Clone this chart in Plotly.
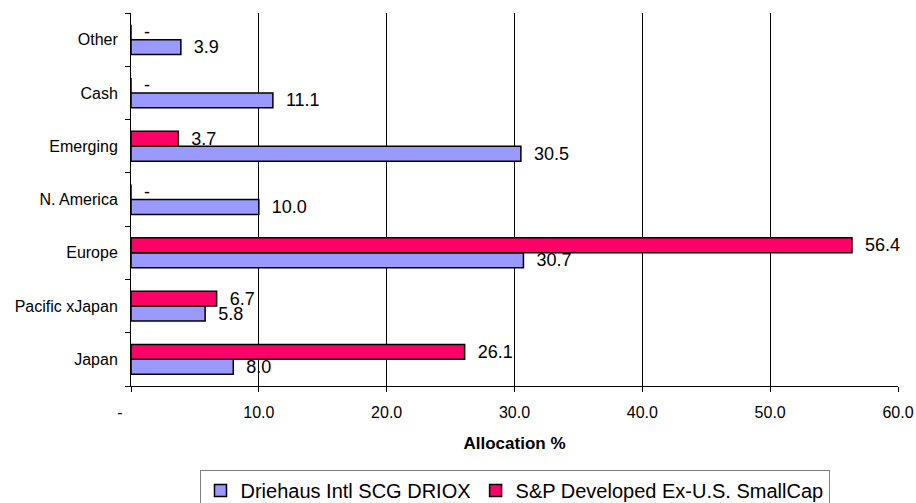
import plotly.graph_objects as go

# Regional allocation (%), listed bottom to top on the chart
regions = ["Japan", "Pacific xJapan", "Europe", "N. America", "Emerging", "Cash", "Other"]
driehaus = [8.0, 5.8, 30.7, 10.0, 30.5, 11.1, 3.9]
sp_small = [26.1, 6.7, 56.4, 0.0, 3.7, 0.0, 0.0]

series_names = ["Driehaus Intl SCG DRIOX", "S&P Developed Ex-U.S. SmallCap"]
series_colors = ["#9999FF", "#FF0066"]

x_tick_vals = [0, 10, 20, 30, 40, 50, 60]
x_tick_text = ["-\u00a0\u00a0\u00a0\u00a0\u00a0", "10.0", "20.0", "30.0", "40.0", "50.0", "60.0"]

FONT = "Liberation Sans, Arial, sans-serif"
PAD = "\u00a0\u00a0"


def fmt(v):
    # accounting style: zero shows as a dash
    return PAD + ("-" if v == 0 else f"{v:.1f}")


fig = go.Figure()
for name, vals, color in zip(series_names, [driehaus, sp_small], series_colors):
    fig.add_trace(go.Bar(
        name=name,
        y=regions,
        x=vals,
        orientation="h",
        marker=dict(color=color, line=dict(color="#000000", width=1.5)),
        text=[fmt(v) for v in vals],
        textposition="outside",
        textfont=dict(family=FONT, size=18, color="#000000"),
        constraintext="none",
        cliponaxis=False,
        hoverinfo="skip",
    ))

fig.update_layout(
    width=916,
    height=503,
    margin=dict(l=131, r=18, t=13, b=117, autoexpand=False),
    paper_bgcolor="#FFFFFF",
    plot_bgcolor="#FFFFFF",
    barmode="group",
    bargap=0.44,
    bargroupgap=0,
    font=dict(family=FONT, size=16, color="#000000"),
    showlegend=True,
    legend=dict(
        orientation="h",
        xref="paper", x=0.5, xanchor="center",
        yref="container", y=1 - 470 / 503, yanchor="top",
        bordercolor="#808080",
        borderwidth=1,
        font=dict(family=FONT, size=20, color="#000000"),
        traceorder="normal",
    ),
    xaxis=dict(
        range=[0, 60],
        automargin=False,
        tickmode="array",
        tickvals=x_tick_vals,
        ticktext=x_tick_text,
        ticks="outside",
        ticklen=5,
        tickcolor="#000000",
        ticklabelstandoff=7,
        showline=True,
        linecolor="#000000",
        linewidth=1,
        showgrid=True,
        gridcolor="#000000",
        gridwidth=1,
        zeroline=False,
        tickfont=dict(family=FONT, size=16, color="#000000"),
        title=dict(text="<b>Allocation %</b>", font=dict(family=FONT, size=17, color="#000000"), standoff=16),
    ),
    yaxis=dict(
        type="category",
        automargin=False,
        categoryorder="array",
        categoryarray=regions,
        tickson="boundaries",
        ticks="outside",
        ticklen=5,
        tickcolor="#000000",
        showline=True,
        linecolor="#000000",
        linewidth=1,
        showgrid=False,
        zeroline=False,
        tickfont=dict(family=FONT, size=16, color="#000000"),
        ticklabelstandoff=9,
    ),
)

fig.write_html("out.html")
